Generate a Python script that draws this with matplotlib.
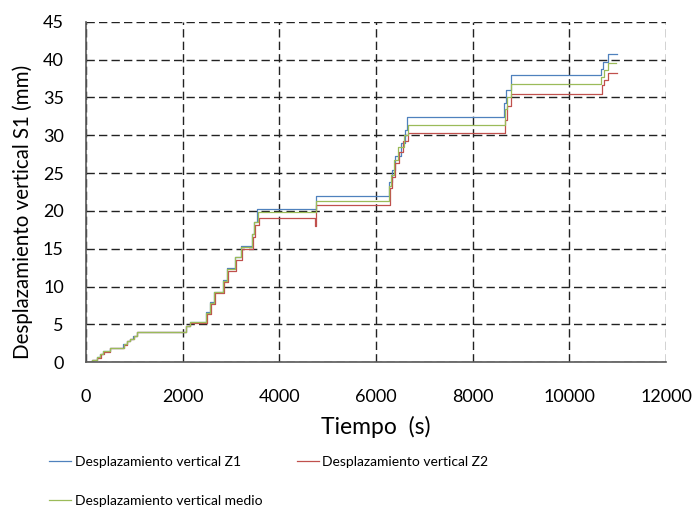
import matplotlib
matplotlib.use("Agg")
import matplotlib.pyplot as plt

# step series (time in s, displacement in mm)
t_z1 = [0, 118, 221, 290, 358, 497, 773, 842, 910, 980, 1048, 2069, 2152, 2483, 2566, 2648,
        2828, 2911, 3076, 3200, 3428, 3476, 3545, 4752, 6260, 6325, 6394, 6511, 6600, 6648,
        8649, 8690, 8788, 10650, 10690, 10800, 10980]
v_z1 = [0, 0.3, 0.65, 1.1, 1.45, 1.9, 2.4, 2.8, 3.1, 3.5, 4.05, 4.8, 5.35, 6.6, 8.0, 9.3,
        10.9, 12.4, 13.95, 15.35, 17.0, 18.6, 20.3, 22.0, 23.8, 25.4, 27.3, 29.0, 30.7, 32.35,
        34.2, 36.0, 37.9, 38.8, 39.7, 40.7, 40.7]

t_z2 = [0, 125, 230, 300, 370, 505, 785, 850, 920, 990, 1060, 2075, 2160, 2495, 2580, 2670,
        2850, 2940, 3100, 3225, 3450, 3500, 3570, 4740, 4765, 6290, 6330, 6400, 6470, 6560,
        6660, 8660, 8700, 8790, 10680, 10720, 10810, 10980]
v_z2 = [0, 0.3, 0.6, 1.05, 1.4, 1.85, 2.35, 2.75, 3.05, 3.45, 3.95, 4.75, 5.25, 6.4, 7.7, 9.1,
        10.6, 12.0, 13.5, 15.0, 16.5, 18.1, 19.1, 18.0, 20.75, 23.0, 24.5, 26.3, 27.8, 29.3,
        30.35, 32.0, 33.8, 35.5, 36.6, 37.3, 38.25, 38.25]

t_med = [0, 120, 225, 295, 362, 500, 778, 845, 915, 985, 1052, 2072, 2155, 2488, 2572, 2655,
         2835, 2920, 3085, 3210, 3438, 3485, 3555, 4755, 6270, 6310, 6380, 6460, 6570, 6655,
         8665, 8720, 8795, 10665, 10710, 10805, 10970]
v_med = [0, 0.3, 0.65, 1.1, 1.45, 1.95, 2.4, 2.8, 3.1, 3.5, 4.05, 4.8, 5.3, 6.5, 7.85, 9.25,
         10.8, 12.3, 13.85, 15.25, 16.9, 18.5, 19.8, 21.35, 23.3, 24.8, 26.7, 28.4, 30.0, 31.35,
         33.5, 35.0, 36.8, 37.7, 38.6, 39.5, 39.5]

labels = ["Desplazamiento vertical Z1", "Desplazamiento vertical Z2",
          "Desplazamiento vertical medio"]
colors = ["#4F81BD", "#C0504D", "#9BBB59"]

plt.rcParams['font.family'] = ['Lato', 'DejaVu Sans']

fig = plt.figure(figsize=(6.97, 5.09), dpi=100)
ax = fig.add_axes([86/697, 1 - 362.3/509, 580/697, 340.6/509])

series = [(t_z1, v_z1), (t_z2, v_z2), (t_med, v_med)]
lines = []
for (t, v), c, lab in zip(series, colors, labels):
  ln, = ax.plot(t, v, drawstyle='steps-post', color=c, lw=0.9, label=lab)
  lines.append(ln)

ax.set_xlim(0, 12000)
ax.set_ylim(0, 45)
ax.set_xticks(range(0, 12001, 2000))
ax.set_yticks(range(0, 46, 5))
ax.tick_params(length=0, labelsize=13)
ax.tick_params(axis='y', pad=16)
ax.tick_params(axis='x', pad=19)
ax.grid(True, color='#222222', ls=(0, (6, 3)), lw=1)
for s in ['top', 'right']:
  ax.spines[s].set_visible(False)
for s in ['left', 'bottom']:
  ax.spines[s].set_color('#595959')
  ax.spines[s].set_linewidth(1.2)
ax.set_xlabel("Tiempo  (s)", fontsize=16.5)
ax.xaxis.set_label_coords(0.5, -0.157)
ax.set_ylabel("Desplazamiento vertical S1 (mm)", fontsize=14.8)
ax.yaxis.set_label_coords(-0.091, 0.441)

# legend fills row-wise in the original: Z1, Z2 / medio
order = [0, 2, 1]
fig.legend([lines[i] for i in order], [labels[i] for i in order], ncol=2,
           loc='upper left', bbox_to_anchor=(49/697, 1 - 456/509),
           frameon=False, fontsize=10, handlelength=1.6, handletextpad=0.25,
           columnspacing=2.47, labelspacing=1.95, borderpad=0, borderaxespad=0)

fig.savefig("out.png", dpi=100)
